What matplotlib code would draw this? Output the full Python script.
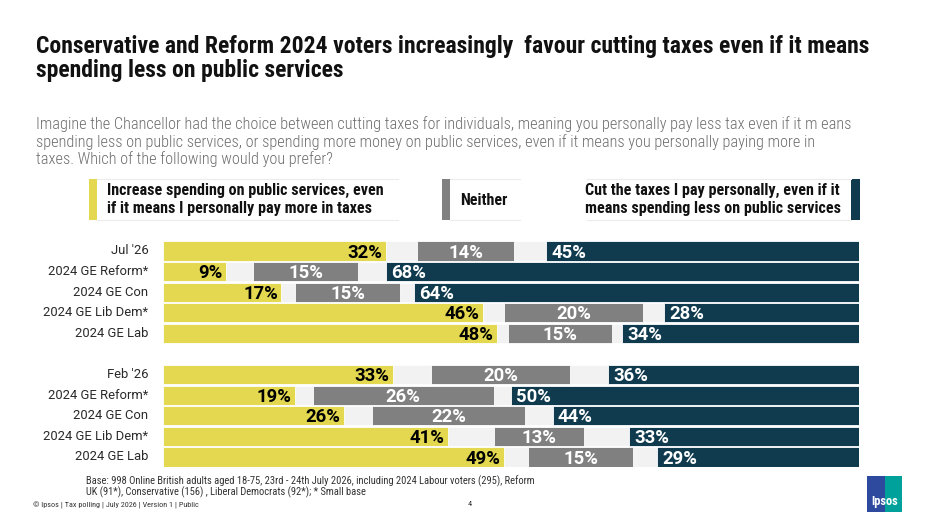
import matplotlib
matplotlib.use("Agg")
import matplotlib.pyplot as plt
from matplotlib import font_manager
from matplotlib.patches import Rectangle

categories = ["Jul '26", "2024 GE Reform*", "2024 GE Con", "2024 GE Lib Dem*", "2024 GE Lab",
              "Feb '26", "2024 GE Reform*", "2024 GE Con", "2024 GE Lib Dem*", "2024 GE Lab"]
increase = [32, 9, 17, 46, 48, 33, 19, 26, 41, 49]
neither = [14, 15, 15, 20, 15, 20, 26, 22, 13, 15]
cut = [45, 68, 64, 28, 34, 36, 50, 44, 33, 29]
row_pos = [0, 1, 2, 3, 4, 6, 7, 8, 9, 10]

legend_labels = [["Increase spending on public services, even", "if it means I personally pay more in taxes"],
                 ["Neither"],
                 ["Cut the taxes I pay personally, even if it", "means spending less on public services"]]

title_lines = ["Conservative and Reform 2024 voters increasingly  favour cutting taxes even if it means",
               "spending less on public services"]
subtitle_lines = ["Imagine the Chancellor had the choice between cutting taxes for individuals, meaning you personally pay less tax even if it m eans",
                  "spending less on public services, or spending more money on public services, even if it means you personally paying more in",
                  "taxes. Which of the following would you prefer?"]
base_lines = ["Base: 998 Online British adults aged 18-75, 23rd - 24th July 2026, including 2024 Labour voters (295), Reform",
              "UK (91*), Conservative (156) , Liberal Democrats (92*); * Small base"]
footer = "\u00a9 Ipsos | Tax polling | July 2026 | Version 1 | Public"

YELLOW = "#e3d84f"
GREY = "#808080"
NAVY = "#103b4f"
LIGHT = "#f2f2f2"

names = {f.name for f in font_manager.fontManager.ttflist}
def pick(*cands):
    for c in cands:
        if c in names:
            return c
    return "DejaVu Sans"
COND = pick("Roboto Condensed", "Liberation Sans Narrow", "Roboto", "DejaVu Sans")
REG = pick("Roboto", "DejaVu Sans")
plt.rcParams["font.family"] = [COND, "DejaVu Sans"]

W, H = 940, 529
fig = plt.figure(figsize=(W / 100, H / 100), dpi=100)
fig.patch.set_facecolor("white")

def fx(x):
    return x / W
def fy(y):
    return 1 - y / H

# Axes
left, right, top, bottom = 163, 859, 240.7, 467.3
ax = fig.add_axes([fx(left), fy(bottom), (right - left) / W, (bottom - top) / H])
ax.set_xlim(0, 100)
ax.set_ylim(10.5, -0.5)
ax.axis("off")

hgt = 0.93
for i, p in enumerate(row_pos):
    a, n, c = increase[i], neither[i], cut[i]
    g = (100 - a - n - c) / 2
    ax.barh(p, 100, left=0, height=hgt, color=LIGHT, edgecolor="white", linewidth=0.6)
    ax.barh(p, a, left=0, height=hgt, color=YELLOW, edgecolor="white", linewidth=0.6)
    ax.barh(p, n, left=a + g, height=hgt, color=GREY, edgecolor="white", linewidth=0.6)
    ax.barh(p, c, left=100 - c, height=hgt, color=NAVY, edgecolor="white", linewidth=0.6)
    kw = dict(va="center", fontsize=13.3, fontweight="bold", family=[REG, "DejaVu Sans"])
    ax.text(a - 0.5, p + 0.08, f"{a}%", ha="right", color="black", **kw)
    ax.text(a + g + n / 2, p + 0.08, f"{n}%", ha="center", color="white", **kw)
    ax.text(100 - c + 0.75, p + 0.08, f"{c}%", ha="left", color="white", **kw)
    ax.text(-2.1, p, categories[i], ha="right", va="center", fontsize=9.4, color="#2a2a2a",
            family=[REG, "DejaVu Sans"])

# Title & subtitle
for line, yy in zip(title_lines, [47, 71]):
    fig.text(fx(36), fy(yy), line, ha="left", va="center", fontsize=17, fontweight="bold", color="#111111")
for line, yy in zip(subtitle_lines, [124, 142, 159.5]):
    fig.text(fx(36), fy(yy), line, ha="left", va="center", fontsize=11.7, fontweight="light",
             color="#6e6e6e")

# Legend
def legend_box(x0, x1, mx0, mx1, color, tx, lines):
    fig.add_artist(Rectangle((fx(mx0), fy(220)), (mx1 - mx0) / W, 41 / H, transform=fig.transFigure,
                             facecolor=color, edgecolor="none"))
    for yy in (179, 220):
        fig.add_artist(plt.Line2D([fx(x0), fx(x1)], [fy(yy), fy(yy)], transform=fig.transFigure,
                                  color="#ececec", lw=0.8))
    ys = [190, 209] if len(lines) == 2 else [200]
    for line, yy in zip(lines, ys):
        fig.text(fx(tx), fy(yy), line, ha="left", va="center", fontsize=11.6, fontweight="bold",
                 color="#111111")

legend_box(97, 398, 89, 97, YELLOW, 107, legend_labels[0])
legend_box(450, 520, 442, 450, GREY, 460, legend_labels[1])
legend_box(587, 851, 851, 860, NAVY, 585, legend_labels[2])

# Footer
for line, yy in zip(base_lines, [481, 492.5]):
    fig.text(fx(86), fy(yy), line, ha="left", va="center", fontsize=7.6, color="#333333")
fig.text(fx(33), fy(505), footer, ha="left", va="center", fontsize=5.9, color="#333333")
fig.text(fx(470), fy(504), "4", ha="center", va="center", fontsize=6, color="#333333")

# Ipsos logo
fig.add_artist(Rectangle((fx(867), fy(512)), 18 / W, 36 / H, transform=fig.transFigure,
                         facecolor="#2e4a9e", edgecolor="none"))
fig.add_artist(Rectangle((fx(885), fy(512)), 17 / W, 36 / H, transform=fig.transFigure,
                         facecolor="#00a19b", edgecolor="none"))
fig.text(fx(884.5), fy(502), "Ipsos", ha="center", va="center", fontsize=9, fontweight="bold", color="white")

fig.savefig("out.png", dpi=100, facecolor="white")
